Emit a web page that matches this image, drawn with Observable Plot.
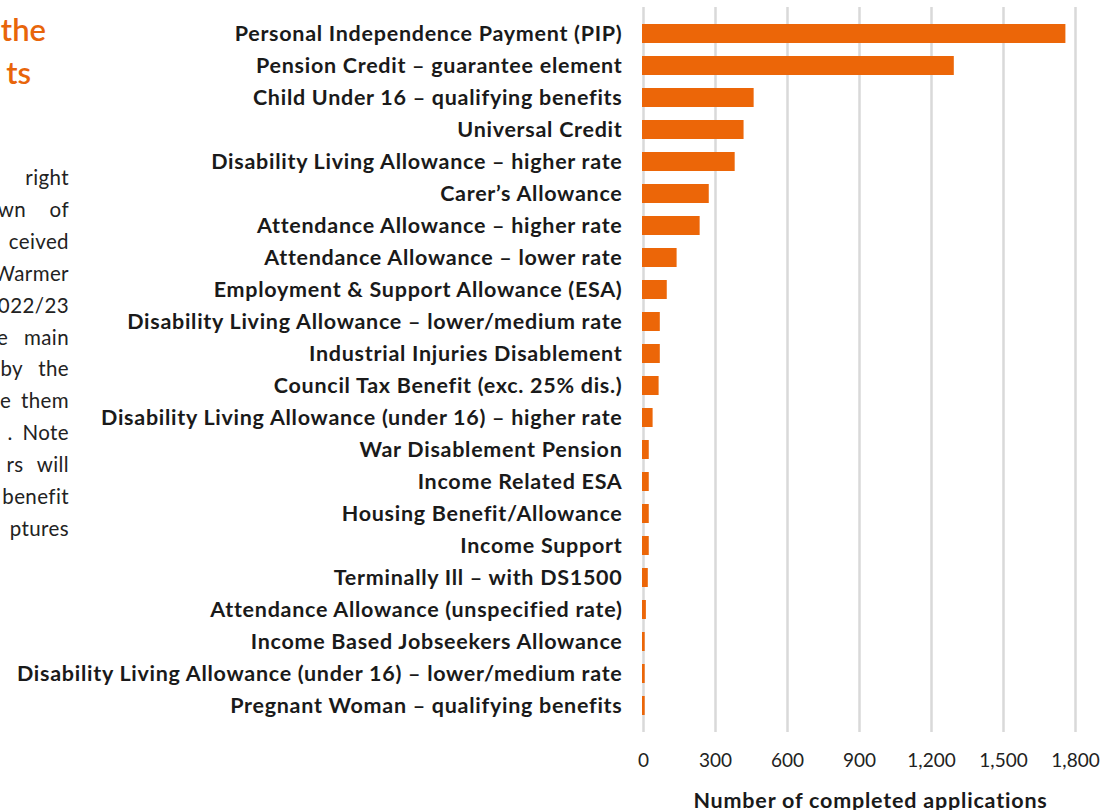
<!DOCTYPE html>
<html>
<head>
<meta charset="utf-8">
<script src="https://cdn.jsdelivr.net/npm/d3@7"></script>
<script src="https://cdn.jsdelivr.net/npm/@observablehq/plot@0.6"></script>
<style>
  html, body { margin: 0; padding: 0; background: #fff; overflow: hidden; }
  #page { position: relative; width: 1110px; height: 810px; overflow: hidden; font-family: Lato, "Open Sans", sans-serif; }
  #chart { position: absolute; left: 0; top: 0; }
  #chart g[aria-label="y-axis tick label"] text { letter-spacing: 0.72px; }
  #chart g[aria-label="text"] text { letter-spacing: 0.8px; }
  .title { position: absolute; text-align: right; color: #E8650A; font-weight: 600; font-size: 31px; line-height: 43px; white-space: nowrap; }
  .para { position: absolute; left: -300px; width: 369px; text-align: right; color: #222; font-weight: 400; font-size: 20.5px; line-height: 31.9px; white-space: nowrap; letter-spacing: 0.4px; }
</style>
</head>
<body>
<div id="page">
  <div class="title" style="top:8px; left:-300px; width:346px;">the</div>
  <div class="title" style="top:51px; left:-300px; width:331px;">ts</div>
  <div class="para" id="para" style="top:162px"></div>
  <div id="chart"></div>
</div>
<script>
const categories = [
  "Personal Independence Payment (PIP)",
  "Pension Credit – guarantee element",
  "Child Under 16 – qualifying benefits",
  "Universal Credit",
  "Disability Living Allowance – higher rate",
  "Carer’s Allowance",
  "Attendance Allowance – higher rate",
  "Attendance Allowance – lower rate",
  "Employment & Support Allowance (ESA)",
  "Disability Living Allowance – lower/medium rate",
  "Industrial Injuries Disablement",
  "Council Tax Benefit (exc. 25% dis.)",
  "Disability Living Allowance (under 16) – higher rate",
  "War Disablement Pension",
  "Income Related ESA",
  "Housing Benefit/Allowance",
  "Income Support",
  "Terminally Ill – with DS1500",
  "Attendance Allowance (unspecified rate)",
  "Income Based Jobseekers Allowance",
  "Disability Living Allowance (under 16) – lower/medium rate",
  "Pregnant Woman – qualifying benefits"
];
const values = [1760, 1295, 461, 419, 382, 274, 236, 140, 99, 70, 70, 65, 40, 24, 24, 24, 24, 20, 12, 7, 7, 7];
const xTicks = [0, 300, 600, 900, 1200, 1500, 1800];
const axisTitle = "Number of completed applications";
const paraLines = [
  {t: "right", ws: 0},
  {t: "wn of", ws: 18},
  {t: "ceived", ws: 0},
  {t: "Warmer", ws: 0},
  {t: "2022/23", ws: 0},
  {t: "e main", ws: 10},
  {t: "by the", ws: 10},
  {t: "e them", ws: 4},
  {t: ". Note", ws: 4},
  {t: "rs will", ws: 8},
  {t: "benefit", ws: 0},
  {t: "ptures", ws: 0}
];

document.getElementById("para").innerHTML = paraLines
  .map(l => `<div style="word-spacing:${l.ws}px">${l.t}</div>`).join("");

const data = categories.map((c, i) => ({category: c, value: values[i]}));

const chart = Plot.plot({
  width: 1110,
  height: 810,
  marginLeft: 643,
  marginRight: 35,
  marginTop: 2,
  marginBottom: 74,
  style: {fontFamily: "Lato, 'Open Sans', sans-serif", background: "transparent", overflow: "visible"},
  x: {domain: [0, 1800], ticks: xTicks, tickFormat: d3.format(",")},
  y: {domain: categories, padding: 0.42},
  marks: [
    Plot.ruleX(xTicks, {stroke: "#d9d9d9", strokeWidth: 2.5, insetTop: 5, insetBottom: 4}),
    Plot.barX(data, {x: "value", y: "category", fill: "#EC6608", insetLeft: -1}),
    Plot.axisY({tickSize: 0, tickPadding: 21, fontSize: 21.5, fontWeight: "bold", fill: "#1a1a1a", label: null}),
    Plot.axisX({ticks: xTicks, tickFormat: d3.format(","), tickSize: 0, tickPadding: 17, fontSize: 19, fill: "#222", label: null}),
    Plot.text([axisTitle], {frameAnchor: "bottom", dx: 11, dy: 71, fontSize: 21.5, fontWeight: "bold", fill: "#1a1a1a"})
  ]
});
document.getElementById("chart").appendChild(chart);
</script>
</body>
</html>
